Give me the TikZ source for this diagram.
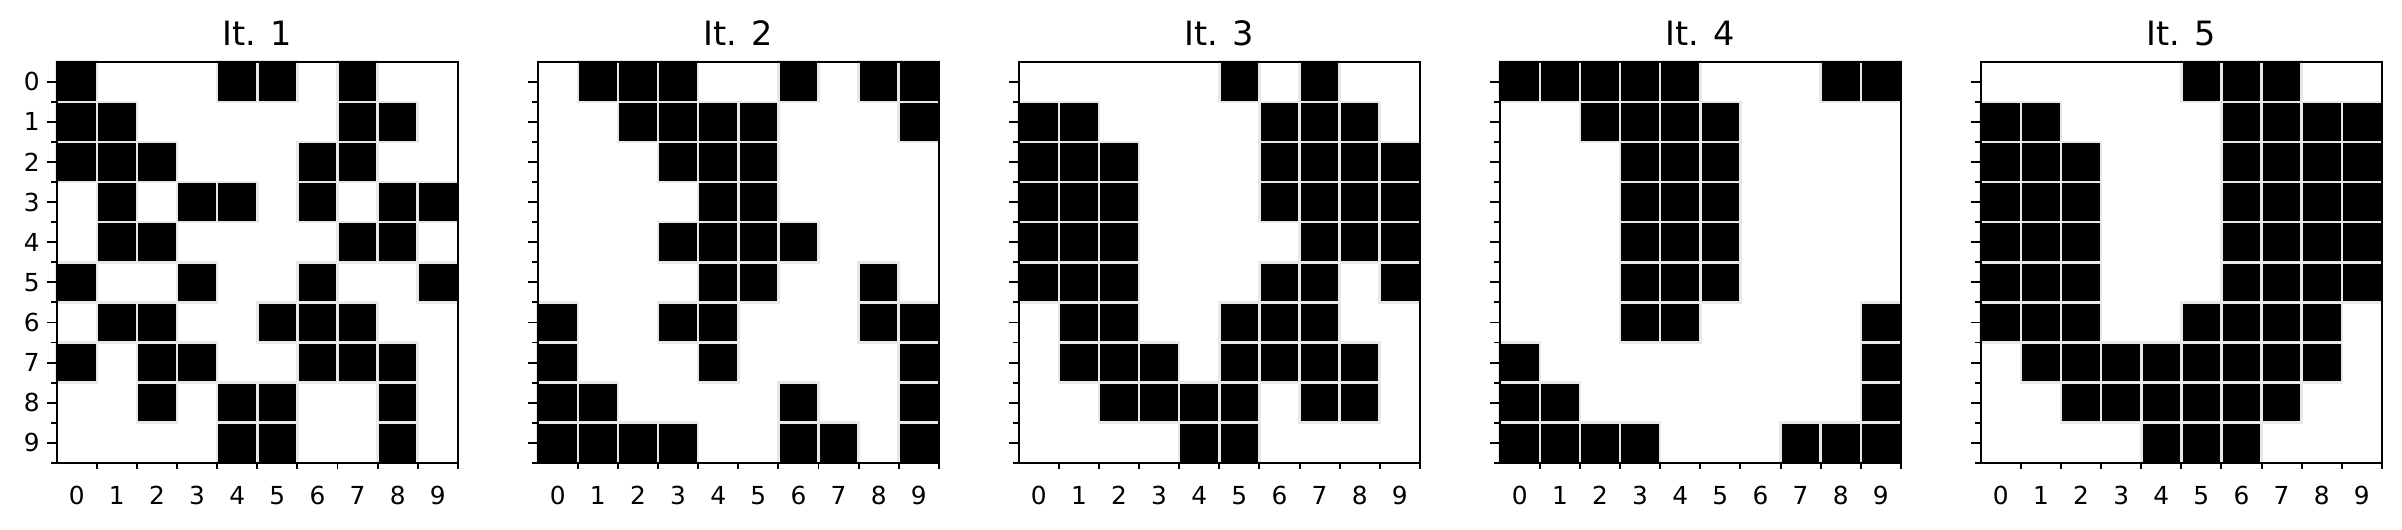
\documentclass[tikz,border=0pt]{standalone}
\usepackage{fontspec}
\setmainfont{DejaVu Sans}
\begin{document}
\begin{tikzpicture}[x=1pt,y=-1pt,
  cellstyle/.style={fill=black,draw=white!91!black,line width=2.6pt},
  framestyle/.style={draw=black,line width=2pt},
  tickstyle/.style={draw=black,line width=1.9pt},
  titlestyle/.style={font=\fontsize{33.5}{36}\selectfont,inner sep=0pt,anchor=base},
  ticklab/.style={font=\fontsize{24.8}{28}\selectfont,inner sep=0pt}]
\useasboundingbox (0,0) rectangle (2402,530);
\def\cw{40.12}
\def\tp{61.7}
\newcommand\rowcells[3]{%
  \foreach \cc in {#3}{\draw[cellstyle] ({56.7+481*#1+\cc*\cw},{\tp+#2*\cw}) rectangle ++(\cw,\cw);}}
% panel 1
\rowcells{0}{0}{0,4,5,7}
\rowcells{0}{1}{0,1,7,8}
\rowcells{0}{2}{0,1,2,6,7}
\rowcells{0}{3}{1,3,4,6,8,9}
\rowcells{0}{4}{1,2,7,8}
\rowcells{0}{5}{0,3,6,9}
\rowcells{0}{6}{1,2,5,6,7}
\rowcells{0}{7}{0,2,3,6,7,8}
\rowcells{0}{8}{2,4,5,8}
\rowcells{0}{9}{4,5,8}
% panel 2
\rowcells{1}{0}{1,2,3,6,8,9}
\rowcells{1}{1}{2,3,4,5,9}
\rowcells{1}{2}{3,4,5}
\rowcells{1}{3}{4,5}
\rowcells{1}{4}{3,4,5,6}
\rowcells{1}{5}{4,5,8}
\rowcells{1}{6}{0,3,4,8,9}
\rowcells{1}{7}{0,4,9}
\rowcells{1}{8}{0,1,6,9}
\rowcells{1}{9}{0,1,2,3,6,7,9}
% panel 3
\rowcells{2}{0}{5,7}
\rowcells{2}{1}{0,1,6,7,8}
\rowcells{2}{2}{0,1,2,6,7,8,9}
\rowcells{2}{3}{0,1,2,6,7,8,9}
\rowcells{2}{4}{0,1,2,7,8,9}
\rowcells{2}{5}{0,1,2,6,7,9}
\rowcells{2}{6}{1,2,5,6,7}
\rowcells{2}{7}{1,2,3,5,6,7,8}
\rowcells{2}{8}{2,3,4,5,7,8}
\rowcells{2}{9}{4,5}
% panel 4
\rowcells{3}{0}{0,1,2,3,4,8,9}
\rowcells{3}{1}{2,3,4,5}
\rowcells{3}{2}{3,4,5}
\rowcells{3}{3}{3,4,5}
\rowcells{3}{4}{3,4,5}
\rowcells{3}{5}{3,4,5}
\rowcells{3}{6}{3,4,9}
\rowcells{3}{7}{0,9}
\rowcells{3}{8}{0,1,9}
\rowcells{3}{9}{0,1,2,3,7,8,9}
% panel 5
\rowcells{4}{0}{5,6,7}
\rowcells{4}{1}{0,1,6,7,8,9}
\rowcells{4}{2}{0,1,2,6,7,8,9}
\rowcells{4}{3}{0,1,2,6,7,8,9}
\rowcells{4}{4}{0,1,2,6,7,8,9}
\rowcells{4}{5}{0,1,2,6,7,8,9}
\rowcells{4}{6}{0,1,2,5,6,7,8}
\rowcells{4}{7}{1,2,3,4,5,6,7,8}
\rowcells{4}{8}{2,3,4,5,6,7}
\rowcells{4}{9}{4,5,6}
% frames, ticks, labels
\foreach \k [evaluate=\k as \lx using {56.7+481*\k}, evaluate=\k as \nn using {int(\k+1)}] in {0,...,4}{
  \draw[framestyle] (\lx,\tp) rectangle ({\lx+10*\cw},{\tp+10*\cw});
  \node[titlestyle] (title\k) at ({\lx+5*\cw},45) {It. \nn};
  \foreach \i in {0,...,9}{
    % y major tick at cell centre
    \draw[tickstyle] (\lx,{\tp+(\i+0.5)*\cw}) -- ++(-9.5,0);
    % y minor tick at cell boundary
    \draw[tickstyle] (\lx,{\tp+(\i+1)*\cw}) -- ++(-5.5,0);
    % x minor tick at cell boundary
    \draw[tickstyle] ({\lx+(\i+1)*\cw},{\tp+10*\cw}) -- ++(0,5.7);
    \node[ticklab,anchor=base] (xl\k-\i) at ({\lx+(\i+0.5)*\cw},504) {\i};
  }
}
\foreach \i in {0,...,9}{
  \node[ticklab,anchor=east] (yl\i) at (39.8,{\tp+(\i+0.5)*\cw}) {\i};
}
\end{tikzpicture}
\end{document}
